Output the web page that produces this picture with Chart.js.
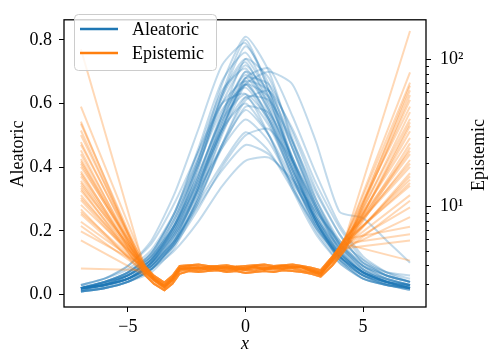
<!DOCTYPE html>
<html>
<head>
<script src="https://cdn.jsdelivr.net/npm/chart.js@4"></script>
<style>body { margin: 0; background: #fff; }</style>
</head>
<body>
<div style="width: 488px; height: 351px;">
  <canvas id="canvas" width="488" height="351"></canvas>
</div>
<script>
// x positions of the aleatoric samples
const xGrid = [-7, -6, -5, -4, -3, -2, -1, 0, 1, 2, 3, 4, 5, 6, 7];

// aleatoric curves (left axis), one row per sampled model
const aleatoric = [
  [0.02, 0.03, 0.05, 0.10, 0.22, 0.42, 0.66, 0.81, 0.70, 0.48, 0.28, 0.14, 0.07, 0.04, 0.02],
  [0.03, 0.05, 0.09, 0.17, 0.32, 0.52, 0.72, 0.79, 0.64, 0.42, 0.23, 0.11, 0.05, 0.03, 0.015],
  [0.02, 0.03, 0.06, 0.11, 0.22, 0.40, 0.62, 0.78, 0.66, 0.46, 0.27, 0.14, 0.07, 0.04, 0.02],
  [0.01, 0.02, 0.04, 0.08, 0.17, 0.34, 0.56, 0.74, 0.68, 0.49, 0.30, 0.16, 0.08, 0.04, 0.02],
  [0.02, 0.04, 0.07, 0.13, 0.25, 0.43, 0.63, 0.74, 0.62, 0.42, 0.24, 0.12, 0.06, 0.03, 0.02],
  [0.01, 0.02, 0.04, 0.08, 0.16, 0.31, 0.51, 0.68, 0.71, 0.56, 0.38, 0.22, 0.12, 0.07, 0.04],
  [0.02, 0.035, 0.06, 0.11, 0.22, 0.38, 0.56, 0.70, 0.57, 0.39, 0.23, 0.12, 0.065, 0.04, 0.025],
  [0.02, 0.03, 0.05, 0.10, 0.19, 0.34, 0.52, 0.67, 0.64, 0.48, 0.30, 0.17, 0.09, 0.05, 0.03],
  [0.03, 0.05, 0.08, 0.14, 0.26, 0.43, 0.60, 0.67, 0.55, 0.37, 0.21, 0.11, 0.06, 0.03, 0.02],
  [0.015, 0.03, 0.05, 0.09, 0.19, 0.35, 0.53, 0.66, 0.56, 0.39, 0.23, 0.12, 0.06, 0.035, 0.02],
  [0.02, 0.03, 0.05, 0.09, 0.17, 0.30, 0.47, 0.61, 0.64, 0.52, 0.35, 0.21, 0.11, 0.06, 0.04],
  [0.03, 0.05, 0.09, 0.16, 0.29, 0.45, 0.60, 0.63, 0.50, 0.33, 0.19, 0.10, 0.05, 0.03, 0.015],
  [0.02, 0.035, 0.06, 0.11, 0.21, 0.35, 0.51, 0.62, 0.53, 0.37, 0.22, 0.12, 0.07, 0.04, 0.025],
  [0.01, 0.02, 0.04, 0.08, 0.16, 0.30, 0.46, 0.59, 0.57, 0.43, 0.27, 0.15, 0.08, 0.05, 0.03],
  [0.02, 0.04, 0.07, 0.12, 0.22, 0.36, 0.52, 0.60, 0.50, 0.34, 0.20, 0.10, 0.05, 0.03, 0.02],
  [0.02, 0.03, 0.05, 0.10, 0.19, 0.32, 0.47, 0.58, 0.50, 0.36, 0.22, 0.13, 0.07, 0.04, 0.03],
  [0.01, 0.02, 0.04, 0.08, 0.16, 0.31, 0.50, 0.66, 0.70, 0.66, 0.48, 0.26, 0.24, 0.17, 0.10],
  [0.02, 0.04, 0.06, 0.11, 0.20, 0.33, 0.46, 0.55, 0.48, 0.34, 0.21, 0.12, 0.07, 0.04, 0.025],
  [0.015, 0.03, 0.05, 0.09, 0.16, 0.27, 0.40, 0.50, 0.52, 0.42, 0.28, 0.16, 0.09, 0.06, 0.04],
  [0.02, 0.03, 0.05, 0.09, 0.17, 0.29, 0.41, 0.51, 0.45, 0.33, 0.21, 0.12, 0.07, 0.05, 0.03],
  [0.02, 0.04, 0.06, 0.10, 0.17, 0.28, 0.39, 0.47, 0.44, 0.35, 0.24, 0.15, 0.09, 0.06, 0.04],
  [0.02, 0.03, 0.05, 0.08, 0.14, 0.23, 0.34, 0.42, 0.43, 0.36, 0.26, 0.17, 0.11, 0.07, 0.05],
  [0.02, 0.04, 0.07, 0.13, 0.26, 0.46, 0.67, 0.76, 0.62, 0.41, 0.23, 0.11, 0.05, 0.03, 0.015],
  [0.015, 0.025, 0.045, 0.09, 0.18, 0.34, 0.54, 0.70, 0.64, 0.46, 0.28, 0.15, 0.08, 0.045, 0.03],
  [0.02, 0.03, 0.05, 0.10, 0.20, 0.36, 0.54, 0.68, 0.58, 0.42, 0.27, 0.16, 0.10, 0.07, 0.06],
  [0.02, 0.03, 0.06, 0.11, 0.23, 0.41, 0.60, 0.72, 0.61, 0.42, 0.25, 0.13, 0.07, 0.04, 0.02],
  [0.015, 0.03, 0.05, 0.10, 0.20, 0.37, 0.57, 0.69, 0.60, 0.43, 0.26, 0.14, 0.075, 0.045, 0.03],
  [0.02, 0.035, 0.065, 0.12, 0.24, 0.41, 0.58, 0.65, 0.54, 0.37, 0.22, 0.11, 0.06, 0.035, 0.02],
  [0.01, 0.02, 0.04, 0.08, 0.17, 0.33, 0.52, 0.66, 0.62, 0.46, 0.29, 0.16, 0.09, 0.05, 0.03],
  [0.025, 0.04, 0.07, 0.12, 0.22, 0.38, 0.55, 0.63, 0.55, 0.39, 0.24, 0.13, 0.07, 0.04, 0.025],
  [0.02, 0.03, 0.05, 0.10, 0.21, 0.40, 0.63, 0.80, 0.64, 0.43, 0.25, 0.13, 0.07, 0.04, 0.02],
  [0.02, 0.04, 0.07, 0.13, 0.26, 0.45, 0.64, 0.71, 0.58, 0.40, 0.24, 0.13, 0.07, 0.04, 0.03],
  [0.015, 0.025, 0.05, 0.09, 0.18, 0.33, 0.52, 0.68, 0.66, 0.51, 0.33, 0.19, 0.10, 0.06, 0.04],
  [0.02, 0.035, 0.06, 0.12, 0.24, 0.42, 0.62, 0.73, 0.59, 0.40, 0.23, 0.12, 0.06, 0.035, 0.02],
  [0.01, 0.02, 0.04, 0.07, 0.15, 0.29, 0.47, 0.62, 0.61, 0.48, 0.32, 0.19, 0.10, 0.06, 0.04],
  [0.02, 0.03, 0.06, 0.11, 0.21, 0.37, 0.56, 0.66, 0.55, 0.38, 0.23, 0.12, 0.06, 0.04, 0.02]
];

// epistemic curves (right, log axis): value at x = -7, shared middle part, value at x = 7
const epiLeft = [118, 48, 38, 36.7, 33, 30.7, 27.5, 26.4, 24.2, 22.8, 21.1, 20.3, 19.6, 18.7,
  17.4, 16.8, 16.1, 15.0, 14.5, 13.9, 13.4, 12.9, 12.0, 11.5, 11.1, 10.3, 9.6, 9.2, 8.9, 7.9,
  7.4, 6.8, 5.9, 3.8];
const epiRight = [62, 157, 35.6, 20.8, 27, 48, 12.0, 82, 25.3, 14.5, 44, 19.7, 9.9, 29.4,
  66.8, 15.3, 16.9, 7.3, 53.4, 22.8, 11, 39.6, 5.9, 18.7, 32.6, 13.9, 57.5, 6.5, 8.5, 24,
  16.1, 69.8, 37.5, 4.3];
const epiMidX = [-4.25, -3.9, -3.45, -3.1, -2.8, -2.4, -2.0, -1.6, -1.2, -0.8, -0.4, 0, 0.4, 0.8,
  1.2, 1.6, 2.0, 2.4, 2.8, 3.2, 3.7, 4.2];
const epiMid = [
  [3.6, 3.2, 2.85, 3.2, 3.75, 3.85, 3.8, 3.9, 3.85, 3.8, 3.8, 3.75, 3.85, 3.8, 3.9, 3.95, 3.9, 3.85, 3.7, 3.55, 4.3, 5.4],
  [3.9, 3.4, 3.05, 3.4, 3.95, 4.0, 4.05, 3.95, 3.95, 4.0, 3.9, 3.95, 4.0, 4.05, 3.95, 4.0, 4.05, 3.95, 3.85, 3.7, 4.6, 5.8],
  [3.4, 3.0, 2.7, 3.0, 3.5, 3.65, 3.6, 3.65, 3.7, 3.6, 3.65, 3.55, 3.6, 3.65, 3.6, 3.7, 3.65, 3.6, 3.5, 3.35, 4.0, 5.0],
  [3.7, 3.25, 2.9, 3.25, 3.8, 3.8, 3.85, 3.75, 3.8, 3.9, 3.75, 3.85, 3.9, 3.75, 3.85, 3.8, 3.9, 3.9, 3.65, 3.45, 4.4, 5.6],
  [3.55, 3.15, 2.8, 3.15, 3.65, 3.75, 3.7, 3.8, 3.75, 3.7, 3.75, 3.7, 3.7, 3.8, 3.75, 3.8, 3.8, 3.7, 3.6, 3.5, 4.2, 5.2],
  [3.8, 3.3, 2.95, 3.3, 3.85, 3.95, 3.9, 3.85, 3.9, 3.85, 3.9, 3.8, 3.95, 3.9, 3.85, 3.95, 3.85, 3.9, 3.75, 3.6, 4.5, 6.0]
];
const epiMidIdx = [0, 1, 2, 3, 4, 5, 0, 1, 2, 3, 4, 5, 0, 1, 2, 3, 4, 5, 0, 1, 2, 3, 4, 5,
  0, 1, 2, 3, 4, 5, 0, 1, 2, 3];

const xTicks = [-5, 0, 5];
const xTickLabels = ['\u22125', '0', '5'];
const leftTicks = [0, 0.2, 0.4, 0.6, 0.8];
const rightTicks = [10, 100];
const rightTickLabels = ['10\u00b9', '10\u00b2'];
const rightMinor = [3, 4, 5, 6, 7, 8, 9, 20, 30, 40, 50, 60, 70, 80, 90];

const FONT = '"Liberation Serif", "Times New Roman", serif';
const BLUE = '#1f77b4';
const ORANGE = '#ff7f0e';

const blueSets = aleatoric.map((vals) => ({
  data: vals.map((v, i) => ({ x: xGrid[i], y: v })),
  yAxisID: 'y',
  borderColor: 'rgba(31,119,180,0.27)',
  borderWidth: 2,
  pointRadius: 0,
  tension: 0.2,
  order: 2,
}));

const orangeSets = epiLeft.map((l, i) => {
  const mid = epiMid[epiMidIdx[i]];
  return {
    data: [{ x: -7, y: l }]
      .concat(epiMidX.map((x, j) => ({ x: x, y: mid[j] })))
      .concat([{ x: 7, y: epiRight[i] }]),
    yAxisID: 'y2',
    borderColor: 'rgba(255,127,14,0.3)',
    borderWidth: 2,
    pointRadius: 0,
    tension: 0,
    order: 1,
  };
});

// frame, minor log ticks, axis titles and the legend box
const decorations = {
  id: 'decorations',
  afterDraw(chart) {
    const { ctx, chartArea: a } = chart;
    const y2 = chart.scales.y2;
    ctx.save();
    ctx.strokeStyle = '#000';
    ctx.lineWidth = 1;
    ctx.beginPath();
    rightMinor.forEach((v) => {
      const y = Math.round(y2.getPixelForValue(v)) + 0.5;
      ctx.moveTo(a.right, y);
      ctx.lineTo(a.right + 3, y);
    });
    ctx.stroke();
    ctx.lineWidth = 1.3;
    ctx.strokeRect(a.left, a.top, a.right - a.left, a.bottom - a.top);

    ctx.fillStyle = '#000';
    ctx.font = '18px ' + FONT;
    ctx.textAlign = 'center';
    ctx.textBaseline = 'alphabetic';
    ctx.save();
    ctx.translate(23, 154);
    ctx.rotate(-Math.PI / 2);
    ctx.fillText('Aleatoric', 0, 0);
    ctx.restore();
    ctx.save();
    ctx.translate(484, 155);
    ctx.rotate(-Math.PI / 2);
    ctx.fillText('Epistemic', 0, 0);
    ctx.restore();
    ctx.font = 'italic 18px ' + FONT;
    ctx.fillText('x', (a.left + a.right) / 2, 349);

    // legend
    ctx.beginPath();
    ctx.roundRect(74.5, 14.5, 142, 56, 4);
    ctx.fillStyle = 'rgba(255,255,255,0.8)';
    ctx.fill();
    ctx.strokeStyle = '#cccccc';
    ctx.lineWidth = 1;
    ctx.stroke();
    [['Aleatoric', BLUE, 29], ['Epistemic', ORANGE, 53]].forEach(([label, color, y]) => {
      ctx.strokeStyle = color;
      ctx.lineWidth = 2.5;
      ctx.beginPath();
      ctx.moveTo(80, y);
      ctx.lineTo(118, y);
      ctx.stroke();
      ctx.fillStyle = '#000';
      ctx.font = '18px ' + FONT;
      ctx.textAlign = 'left';
      ctx.fillText(label, 132, y + 6);
    });
    ctx.restore();
  },
};

const tickFont = { family: FONT, size: 18 };

new Chart(document.getElementById('canvas').getContext('2d'), {
  type: 'line',
  data: { datasets: blueSets.concat(orangeSets) },
  options: {
    responsive: false,
    animation: false,
    layout: { padding: { top: 6, left: 0, right: 0, bottom: 0 } },
    plugins: { legend: { display: false }, tooltip: { enabled: false } },
    scales: {
      x: {
        type: 'linear',
        min: -7.72,
        max: 7.68,
        afterBuildTicks: (s) => { s.ticks = xTicks.map((v) => ({ value: v })); },
        afterFit: (s) => { s.height = 44; },
        grid: { drawOnChartArea: false, tickLength: 5, color: '#000' },
        border: { display: false },
        ticks: {
          callback: (v) => xTickLabels[xTicks.indexOf(v)],
          font: tickFont, color: '#000', padding: 4, maxRotation: 0, autoSkip: false,
        },
      },
      y: {
        type: 'linear',
        position: 'left',
        min: -0.039,
        max: 0.863,
        afterBuildTicks: (s) => { s.ticks = leftTicks.map((v) => ({ value: v })); },
        afterFit: (s) => { s.width = 64; },
        grid: { drawOnChartArea: false, tickLength: 5, color: '#000' },
        border: { display: false },
        ticks: { callback: (v) => v.toFixed(1), font: tickFont, color: '#000', padding: 7 },
      },
      y2: {
        type: 'logarithmic',
        position: 'right',
        min: 2.08,
        max: 187,
        afterBuildTicks: (s) => { s.ticks = rightTicks.map((v) => ({ value: v })); },
        afterFit: (s) => { s.width = 62; },
        grid: { drawOnChartArea: false, tickLength: 5, color: '#000' },
        border: { display: false },
        ticks: {
          callback: (v) => rightTickLabels[rightTicks.indexOf(v)],
          font: tickFont, color: '#000', padding: 9,
        },
      },
    },
  },
  plugins: [decorations],
});
</script>
</body>
</html>
